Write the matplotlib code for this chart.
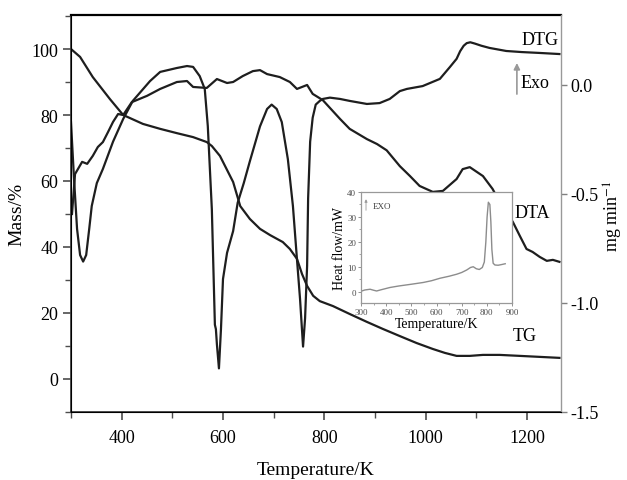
import matplotlib
matplotlib.use("Agg")
import matplotlib.pyplot as plt
from matplotlib.ticker import MultipleLocator, FormatStrFormatter

plt.rcParams['font.family'] = ['Liberation Serif', 'DejaVu Serif']
plt.rcParams['mathtext.fontset'] = 'stix'

# TG curve (mass %, left axis)
tg_T = [300, 318, 343, 377, 403, 442, 476, 509, 541, 568, 578, 594, 620, 634, 653, 673,
        693, 718, 732, 746, 756, 766, 778, 791, 817, 850, 884, 915, 949, 982, 1014, 1038,
        1061, 1087, 1113, 1146, 1186, 1225, 1264]
tg_mass = [100, 97.6, 91.5, 84.8, 80.0, 77.3, 75.8, 74.5, 73.3, 71.8, 70.6, 67.6, 59.7, 52.4,
           48.5, 45.5, 43.6, 41.5, 39.4, 36.4, 31.8, 28.2, 25.2, 23.6, 22.1, 19.7, 17.3, 15.2,
           13.0, 10.9, 9.1, 7.9, 7.0, 7.0, 7.3, 7.3, 7.0, 6.7, 6.4]

# DTA curve (arbitrary, drawn on the left scale)
dta_T = [302, 308, 322, 332, 343, 353, 363, 373, 383, 393, 403, 420, 450, 476, 509, 529, 541,
         568, 588, 608, 620, 639, 659, 673, 687, 712, 732, 746, 756, 766, 777, 797, 831, 850,
         884, 904, 923, 949, 969, 988, 1014, 1034, 1061, 1073, 1087, 1113, 1132, 1146, 1172,
         1186, 1199, 1211, 1225, 1239, 1251, 1264]
dta_val = [50.0, 62.1, 65.8, 65.2, 67.6, 70.3, 71.8, 74.8, 77.9, 80.3, 80.0, 83.9, 85.8, 87.9,
           90.0, 90.3, 88.5, 88.2, 90.9, 89.7, 90.0, 91.8, 93.3, 93.6, 92.4, 91.5, 90.0, 87.9,
           88.5, 89.1, 86.4, 84.5, 78.8, 75.8, 72.7, 71.2, 69.3, 64.5, 61.5, 58.5, 56.7, 57.0,
           60.6, 63.6, 64.2, 61.5, 57.6, 53.6, 47.6, 43.3, 39.4, 38.5, 37.0, 35.8, 36.1, 35.5]

# DTG curve (mg/min, right axis)
dtg_T = [300, 306, 312, 318, 324, 330, 336, 341, 351, 363, 383, 403, 422, 456, 476, 509, 529,
         541, 554, 564, 570, 578, 584, 586, 588, 592, 596, 600, 608, 620, 629, 641, 653, 663,
         673, 687, 696, 706, 716, 728, 738, 746, 752, 758, 762, 766, 768, 772, 777, 783, 791,
         797, 811, 831, 850, 884, 909, 929, 949, 963, 994, 1028, 1048, 1061, 1068, 1075, 1081,
         1088, 1097, 1110, 1126, 1159, 1190, 1225, 1264]
dtg_val = [-0.17, -0.43, -0.66, -0.78, -0.81, -0.78, -0.66, -0.555, -0.45, -0.385, -0.26,
           -0.156, -0.073, 0.018, 0.06, 0.078, 0.087, 0.083, 0.041, -0.018, -0.188, -0.57,
           -1.10, -1.12, -1.19, -1.30, -1.12, -0.89, -0.77, -0.67, -0.54, -0.45, -0.35, -0.27,
           -0.19, -0.11, -0.09, -0.11, -0.17, -0.34, -0.555, -0.80, -0.98, -1.20, -1.07, -0.83,
           -0.52, -0.26, -0.15, -0.09, -0.073, -0.064, -0.058, -0.064, -0.073, -0.087, -0.083,
           -0.064, -0.028, -0.018, -0.005, 0.028, 0.083, 0.12, 0.155, 0.18, 0.192, 0.196, 0.19,
           0.18, 0.17, 0.156, 0.151, 0.147, 0.142]

# inset: DSC heat flow
hf_T = [300, 315, 336, 350, 362, 380, 415, 450, 500, 547, 580, 614, 650, 680, 700, 720, 735,
        746, 758, 770, 782, 790, 796, 801, 806, 812, 816, 820, 825, 832, 845, 860, 873]
hf_val = [0.3, 0.8, 1.1, 0.7, 0.4, 0.9, 1.8, 2.4, 3.1, 3.8, 4.5, 5.5, 6.3, 7.1, 7.8, 8.8, 9.8,
          10.1, 9.3, 9.0, 9.8, 12.0, 20.0, 30.0, 35.9, 35.0, 28.0, 17.0, 11.5, 10.8, 10.7,
          11.0, 11.3]

line_c = '#1e1e1e'

fig = plt.figure(figsize=(6.27, 4.81), dpi=100)
ax = fig.add_axes([0.1132, 0.1414, 0.7815, 0.8253])
ax2 = ax.twinx()

ax.plot(tg_T, tg_mass, color=line_c, lw=1.6)
ax.plot(dta_T, dta_val, color=line_c, lw=1.6)
ax2.plot(dtg_T, dtg_val, color=line_c, lw=1.6)

ax.set_xlim(300, 1267)
ax.set_ylim(-10, 110.3)
ax2.set_ylim(-1.5, 0.321)

ax.xaxis.set_major_locator(MultipleLocator(200))
ax.xaxis.set_minor_locator(MultipleLocator(100))
ax.yaxis.set_major_locator(MultipleLocator(20))
ax.yaxis.set_minor_locator(MultipleLocator(10))
ax2.yaxis.set_major_locator(MultipleLocator(0.5))
ax2.yaxis.set_major_formatter(FormatStrFormatter('%.1f'))

ax.tick_params(axis='both', which='major', direction='out', length=6, width=1.2,
               labelsize=13, color='0.3')
ax.tick_params(axis='both', which='minor', direction='out', length=4, width=1.0, color='0.3')
ax.tick_params(axis='x', pad=6)
ax.tick_params(axis='y', pad=3)
ax2.tick_params(axis='y', direction='out', length=4, width=1.0, labelsize=13, color='0.5', pad=3)

for s in ['left', 'bottom']:
    ax.spines[s].set_color('0.25')
    ax.spines[s].set_linewidth(1.3)
ax.spines['top'].set_linewidth(1.6)
ax.spines['top'].set_color('black')
ax2.spines['top'].set_visible(False)
ax2.spines['right'].set_color('0.6')
ax2.spines['right'].set_linewidth(1.0)
ax.spines['right'].set_visible(False)

ax.set_xlabel('Temperature/K', fontsize=14)
ax.xaxis.set_label_coords(0.5, -0.123)
ax.set_ylabel('Mass/%', fontsize=14)
ax.yaxis.set_label_coords(-0.094, 0.5)
ax2.set_ylabel(r'mg min$^{-1}$', fontsize=13)
ax2.yaxis.set_label_coords(1.084, 0.495)

ax.text(1189, 103, 'DTG', fontsize=13, va='center')
ax.text(1187, 90, 'Exo', fontsize=13, va='center')
ax.text(1176, 50.6, 'DTA', fontsize=13, va='center')
ax.text(1172, 13.3, 'TG', fontsize=13, va='center')
ax.annotate('', xy=(1180, 96.6), xytext=(1180, 85.5),
            arrowprops=dict(arrowstyle='-|>', color='0.6', lw=1.2, mutation_scale=9,
                            facecolor='black'))

# inset
ins = fig.add_axes([0.5758, 0.368, 0.2408, 0.2308])
ins.plot(hf_T, hf_val, color='0.55', lw=1.0)
ins.set_xlim(300, 900)
ins.set_ylim(-4.4, 40)
ins.xaxis.set_major_locator(MultipleLocator(100))
ins.xaxis.set_minor_locator(MultipleLocator(50))
ins.yaxis.set_major_locator(MultipleLocator(10))
ins.yaxis.set_minor_locator(MultipleLocator(5))
ins.tick_params(which='major', direction='out', length=2.5, width=0.6, labelsize=6.5,
                color='0.5', labelcolor='0.3', pad=1)
ins.tick_params(which='minor', direction='out', length=1.5, width=0.5, color='0.5')
for s in ins.spines.values():
    s.set_color('0.6')
    s.set_linewidth(0.9)
ins.set_xlabel('Temperature/K', fontsize=10, labelpad=1)
ins.set_ylabel('Heat flow/mW', fontsize=10, labelpad=1)
ins.text(0.08, 0.87, 'EXO', fontsize=6.5, color='0.25', transform=ins.transAxes, va='center')
ins.annotate('', xy=(0.033, 0.96), xytext=(0.033, 0.81), xycoords='axes fraction',
             arrowprops=dict(arrowstyle='-|>', color='0.6', lw=0.6, mutation_scale=4))

fig.savefig('out.png', dpi=100)
